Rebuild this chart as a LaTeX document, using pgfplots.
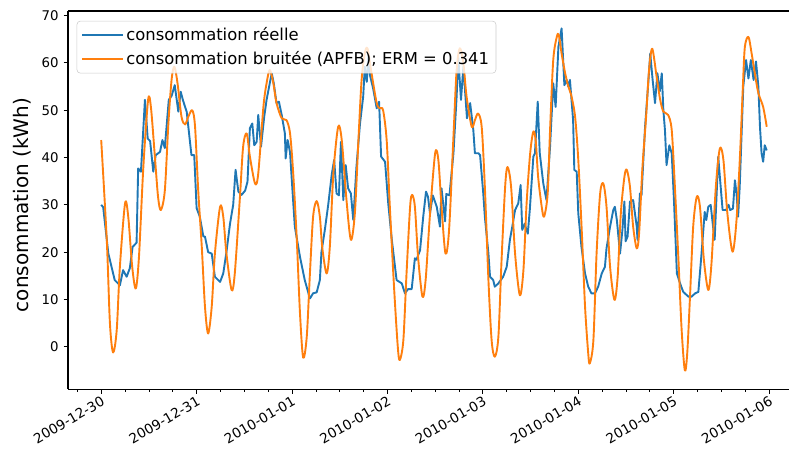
\documentclass[border=0pt]{standalone}
\usepackage{fontspec}
\setmainfont{DejaVu Sans}
\usepackage{pgfplots}
\pgfplotsset{compat=1.18}
\definecolor{mblue}{HTML}{1F77B4}
\definecolor{morange}{HTML}{FF7F0E}
\begin{document}
\begin{tikzpicture}
\begin{axis}[name=ax, scale only axis, width=519.1pt, height=272.2pt,
 xmin=-8.35, xmax=173, ymin=-8.94, ymax=70.97,
 axis x line*=bottom, axis y line*=left,
 axis line style={-, line width=0.73pt, black},
 xtick={0,24,...,168},
 xticklabels={2009-12-30,2009-12-31,2010-01-01,2010-01-02,2010-01-03,2010-01-04,2010-01-05,2010-01-06},
 minor xtick={-6,0,...,172},
 ytick={0,10,...,70},
 tick align=outside, major tick length=3.2pt, minor tick length=1.8pt,
 tick style={black, line width=0.73pt}, minor tick style={line width=0.55pt},
 xticklabel style={rotate=30, anchor=north east, font=\fontsize{9.8}{11}\selectfont, inner sep=1pt},
 yticklabel style={font=\fontsize{9.6}{11}\selectfont},
 /pgf/number format/assume math mode=true,
 ylabel={consommation (kWh)},
 ylabel style={font=\fontsize{14.4}{17}\selectfont, at={(axis description cs:-0.0638,0.487)}, anchor=center},
 legend cell align=left,
 legend style={at={(axis description cs:0.012,0.974)}, anchor=north west, draw=black!20, rounded corners=2.5pt, fill=white, fill opacity=0.8, text opacity=1, font=\fontsize{11.8}{14}\selectfont, inner xsep=3pt, inner ysep=2.5pt, row sep=2.6pt},
 legend image code/.code={\draw[#1, line width=1.37pt] (0pt,0pt) -- (25.5pt,0pt); \path (25.5pt,0pt) -- (29.2pt,0pt);},
]
\addplot[mblue, line width=1.37pt, line join=round] coordinates {
(0,30)(0.5,29.5)(1.8,19.7)(3.4,14.1)(4.7,13)(5.5,16.2)(6.4,14.8)(7.2,16.6)(7.9,21.1)(8.9,22)(9.3,37.7)(10,37)(11,52.2)(11.7,44)(12.3,43.5)(13.1,37)(13.7,40.5)(14.8,41.2)(15.4,43.7)(16,42)(17,52.2)(17.7,53)(18.5,55.3)(19.4,49.7)(20,53.9)(20.6,52)(21.5,49.7)(22.7,40.5)(23.4,40.5)(24,29.3)(24.8,27.5)(25.7,23.3)(26.1,23.3)
(26.9,20)(27.8,19.7)(28.6,14.8)(29.9,13.7)(30.7,15.5)(31.5,20)(32.4,26)(33.2,30)(33.8,37.4)(34.5,32.8)(35.3,32.1)(36.2,33)(36.8,34.9)(37.4,46.2)(38,47.2)(38.5,42.6)(39.1,43.3)(39.5,49)(40.2,42.3)(41,48.6)(41.6,52.2)(42.4,55.7)(42.9,57.8)(43.4,55.7)(44.1,51.5)(44.7,51.8)(45.4,49)(46.2,45.1)(46.4,39.8)(46.9,43.7)(47.5,41.1)(48,34.5)(48.7,25.4)(50,19)(51.2,14.1)(52.5,10.2)(53.3,11.3)(54.2,11.5)
(55,14.1)(55.4,20)(56.3,25)(57.1,30)(58,36.5)(58.6,39.5)(59.2,32.4)(59.8,32)(60.3,43.3)(60.9,31)(61.5,38.4)(62.1,33.5)(62.8,32.4)(63.4,26.8)(64.2,38)(65.1,47.2)(65.9,52.9)(66.3,59.2)(66.8,56)(67.2,61.7)(67.6,57.4)(68.4,54.6)(69.3,50.4)(69.9,51.8)(70.4,40.2)(71.4,39.1)(72.2,30.3)(73.1,22.6)(74.3,14.1)(75.6,13.4)(76.4,11.3)(77.2,12.2)(78.1,12.2)(78.9,18.7)(79.3,18.4)(80.2,20.4)(81,27.5)(81.7,32.8)(82.2,31.7)
(82.7,28.2)(83.4,32)(84.4,29.6)(85.2,25.4)(85.6,33.5)(86.5,26.5)(86.8,32.3)(87.6,32)(88.6,40.9)(89.4,52.9)(89.8,61.3)(90.5,52.2)(91.1,59.2)(92,48.3)(92.8,51.5)(93.6,45.8)(94,40.9)(94.9,40.9)(95.3,40.5)(96.1,32.4)(96.5,27.5)(97.4,19.7)(97.8,14.8)(98.6,14.1)(99,12.7)(99.9,13.4)(101.1,14.8)(102,16.9)(102.8,22.6)(103.4,25.4)(104.1,28.9)(104.9,30.3)(105.5,34.2)(105.9,24.7)(106.5,26)(107.3,23.9)(107.8,28.9)(108.7,40.2)(109.1,40.9)(109.8,51.8)(110.3,41)(111.2,34.5)(112,31)(112.9,42.3)(113.7,55.7)(114.3,50.7)(115,63.4)(115.8,67.3)(116.5,55.3)(117.1,56.4)(117.5,55)(117.9,56.4)(118.7,47.9)(119,37.4)(119.6,37)(120,28.2)(120.8,21.1)(121.7,15.5)(122.5,12.7)(123.3,11.3)(124.2,11.3)(125,12.7)(125.9,15.5)(126.7,16.9)(127.1,20.8)(128,25.4)(128.8,28.9)(129.2,29.6)(129.7,26.8)(130.5,19.7)(131.1,24.7)(131.6,30.7)(131.9,22.3)(132.4,23.3)(133,30.7)(133.8,31)(134.7,25.4)(134.9,22.6)(135.5,32.4)(135.9,32)(136.8,46.5)(137.6,55.7)(138.1,62)(138.7,56.4)(139.3,51.5)(139.9,57.8)(140.5,54)(141,57.8)(141.4,50)(141.8,45.8)(142.2,38.4)(142.9,42.6)(143.5,40.9)(144.1,30.3)(144.8,15.5)(145.6,13.4)(146.4,11.6)(147.7,10.6)(148.5,10.6)(149.4,11.3)(150.2,11.6)(151,19.7)(151.8,28.5)(152.2,26.8)(152.7,29.6)(153.3,30)(153.9,25.4)(154.3,22.6)(155.2,40.2)(155.6,36)(156.3,28.9)(157.2,28.9)(157.8,30)(158.2,28.9)(158.9,29.2)(159.4,35.2)(159.8,32.4)(160.2,27.5)(160.6,33.8)(161.5,55)(162.2,60.6)(162.8,56.7)(163.4,60.6)(164.1,56.4)(164.7,60.3)(165.3,55)(165.7,46.5)(166.1,40.9)(166.5,39.1)(166.9,42.6)(167.4,41.5)
};
\addlegendentry{consommation réelle}
\addplot[morange, line width=1.37pt, smooth, tension=0.5, line join=round] coordinates {
(0,43.7)(1.4,22.6)(2.2,4.9)(3,-1.2)(3.9,3.5)(4.7,16.9)(6,30.3)(6.8,27.5)(7.8,16.9)(8.7,12.3)(9.5,19)(10.6,38)(11.8,52.2)(12.5,50.7)(13.5,40.2)(14.3,31.7)(15,28.9)(16,33)(16.9,47.2)(17.7,56.4)(18.4,59.2)(19.2,55.7)(20.2,48.6)(21.1,47)(21.9,48.6)(22.9,50)(23.6,46.6)(24.4,33.1)(25.3,21.1)(26.1,8.5)(26.9,2.8)(27.8,8.5)(28.6,19.7)(29.9,29.6)(30.7,27.5)(31.5,19.7)(32.8,12)(33.6,15.5)(34.9,31.7)(35.7,42.3)(36.6,45.1)(37.4,40.2)(38.7,34.5)(39.5,36.6)(40.8,50.7)(41.6,55.7)(42.4,58.5)(43.3,55.7)(44.1,51.5)(45.4,48.3)(46.6,47.9)(47.5,45.1)(48.3,36.6)(49.2,22.6)(50,7.1)(50.8,-2.3)(51.7,2.1)(52.5,15.5)(53.3,27.5)(54.2,30.8)(55,27.5)(55.6,21)(56.7,15.5)(57.5,21.1)(58.4,36.7)(59.6,46.5)(60.5,43.7)(61.7,31)(62.8,22.6)(63.8,28.2)(64.7,43.7)(65.5,56.4)(66.3,62)(67,63)(68,57.8)(69.3,51.5)(70.1,50.4)(70.9,50)(71.8,43.7)(72.6,29.6)(73.7,12)(74.6,0)(75.1,-2.8)(76,1.4)(76.8,15.5)(77.7,29.6)(78.2,32.1)(78.9,29.6)(79.7,19)(80.8,10.6)(81.6,14.1)(82.7,28)(84,40.9)(84.8,39.5)(85.6,29.6)(86.6,19.7)(87.5,24.7)(88.6,44.4)(89.4,58.5)(90.2,63.1)(91.1,59.9)(91.9,52.9)(93.2,46.5)(94,47.9)(94.8,49.3)(95.7,46.5)(96.5,33.8)(97.4,14.1)(98.2,1.4)(99,-2.1)(99.9,2.1)(100.7,18.3)(101.6,33.8)(102.2,38)(103.1,33.8)(104.1,19.7)(105.3,10.9)(106.2,16.2)(107,30.3)(107.9,40.9)(108.7,45.5)(109.3,43.5)(109.9,35.9)(110.8,29.6)(111.4,27.5)(112.3,32.4)(112.9,45.8)(113.7,60.6)(114.6,65.5)(115.1,65.9)(115.8,62)(116.7,57.8)(117.5,55)(118.3,52.9)(119.2,48.6)(120,39.5)(120.9,24)(121.7,8.5)(122.5,-1.4)(122.9,-3.5)(123.8,1.4)(124.6,19.7)(125.5,32.4)(126.3,34.5)(127.1,29.6)(128,16.9)(129.1,9.9)(129.9,14.8)(130.7,28.2)(131.6,35.9)(132.2,37.4)(133,33.8)(133.8,25.4)(134.7,20.8)(135.3,24)(136.1,37.4)(137,47.9)(137.8,58.5)(138.6,63)(139.7,57.1)(140.6,52.2)(141.4,49.7)(142.6,49)(143.5,45.8)(144.3,33.8)(145.2,18.3)(146,3.5)(146.8,-5)(147.4,-1.4)(148.1,10.6)(148.9,25.4)(149.8,31.7)(150.6,29.6)(151.6,18.3)(152.7,12)(153.5,17.6)(154.6,33.8)(155.6,41.9)(156.5,39.5)(157.5,28.2)(158.8,20.1)(159.8,26.8)(160.7,40.9)(161.4,55)(161.9,63.4)(162.8,65.5)(163.6,62)(164.4,57.8)(165.3,53.6)(166.5,50.7)(167.4,46.5)
};
\addlegendentry{consommation bruitée (APFB); ERM = 0.341}
\end{axis}
\draw[black, line width=0.73pt] (ax.north west) -- (ax.north east);
\pgfresetboundingbox
\path[use as bounding box] ([xshift=-48.96pt,yshift=-42.48pt]ax.south west) rectangle ([yshift=7.92pt]ax.north east);
\end{tikzpicture}
\end{document}
